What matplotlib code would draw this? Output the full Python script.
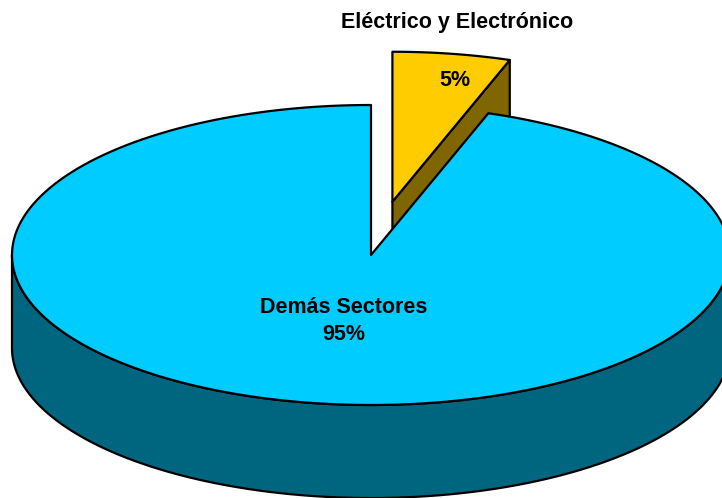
#!/usr/bin/env python3
"""3D-style exploded pie: Eléctrico y Electrónico vs Demás Sectores."""

import numpy as np
import matplotlib.pyplot as plt
from matplotlib.patches import Polygon

LABELS = ["Eléctrico y Electrónico", "Demás Sectores"]
VALUES = [5.3, 94.7]
COLORS = ["#FFCC00", "#00CCFF"]
SIDE_COLORS = ["#806600", "#006680"]
EXPLODE = [0.36, 0.0]

TILT = 150 / 359   # vertical squash of the top face
DEPTH = 93 / 359   # thickness of the disc
START = 90         # first slice starts at 12 o'clock, clockwise


def arc(a_from, a_to, dx=0.0, dy=0.0, drop=0.0, n=200):
    t = np.radians(np.linspace(a_from, a_to, n))
    return np.column_stack([dx + np.cos(t), dy + TILT * np.sin(t) - drop])


def front_parts(a_lo, a_hi):
    """Pieces of [a_lo, a_hi] where the outer wall faces the viewer."""
    parts = []
    for k in range(-3, 3):
        lo, hi = 180 + 360 * k, 360 + 360 * k
        s, e = max(a_lo, lo), min(a_hi, hi)
        if e > s:
            parts.append((s, e))
    return parts


def main() -> None:
    fig = plt.figure(figsize=(7.22, 4.98), dpi=100)
    ax = fig.add_axes([0, 0, 1, 1])
    ax.set_xlim(-371 / 359, 351 / 359)
    ax.set_ylim(-243 / 359, 255 / 359)
    ax.axis("off")

    total = sum(VALUES)
    slices = []
    a0 = START
    for val, col, side, ex in zip(VALUES, COLORS, SIDE_COLORS, EXPLODE):
        a1 = a0 - val / total * 360
        mid = np.radians((a0 + a1) / 2)
        dx, dy = ex * np.cos(mid), ex * TILT * np.sin(mid)
        slices.append((a0, a1, col, side, dx, dy, np.sin(mid)))
        a0 = a1

    edge = dict(edgecolor="black", linewidth=1.6, joinstyle="round")
    # back slices first
    for a0, a1, col, side, dx, dy, _ in sorted(slices, key=lambda s: -s[6]):
        c = np.array([[dx, dy]])
        cd = np.array([[dx, dy - DEPTH]])
        # radial walls
        for ang, visible in ((a0, np.cos(np.radians(a0)) < -1e-9),
                             (a1, np.cos(np.radians(a1)) > 1e-9)):
            if visible:
                p = arc(ang, ang, dx, dy, n=1)
                pd = arc(ang, ang, dx, dy, DEPTH, n=1)
                ax.add_patch(Polygon(np.vstack([c, p, pd, cd]), facecolor=side, **edge))
        # outer wall
        for s, e in front_parts(a1, a0):
            top = arc(s, e, dx, dy)
            bot = arc(e, s, dx, dy, DEPTH)
            ax.add_patch(Polygon(np.vstack([top, bot]), facecolor=side, **edge))
        # top face
        ax.add_patch(Polygon(np.vstack([c, arc(a0, a1, dx, dy)]), facecolor=col, **edge))

    font = dict(family=["Liberation Sans", "DejaVu Sans"], fontweight="bold",
                fontsize=15.5, ha="center", va="center")
    pcts = [f"{v / total * 100:.0f}%" for v in VALUES]
    ax.text(0.241, 0.649, LABELS[0], **font)
    ax.text(0.234, 0.487, pcts[0], **font)
    ax.text(-0.075, -0.184, f"{LABELS[1]}\n{pcts[1]}", linespacing=1.35, **font)

    fig.savefig("out.png", dpi=100)


if __name__ == "__main__":
    main()
